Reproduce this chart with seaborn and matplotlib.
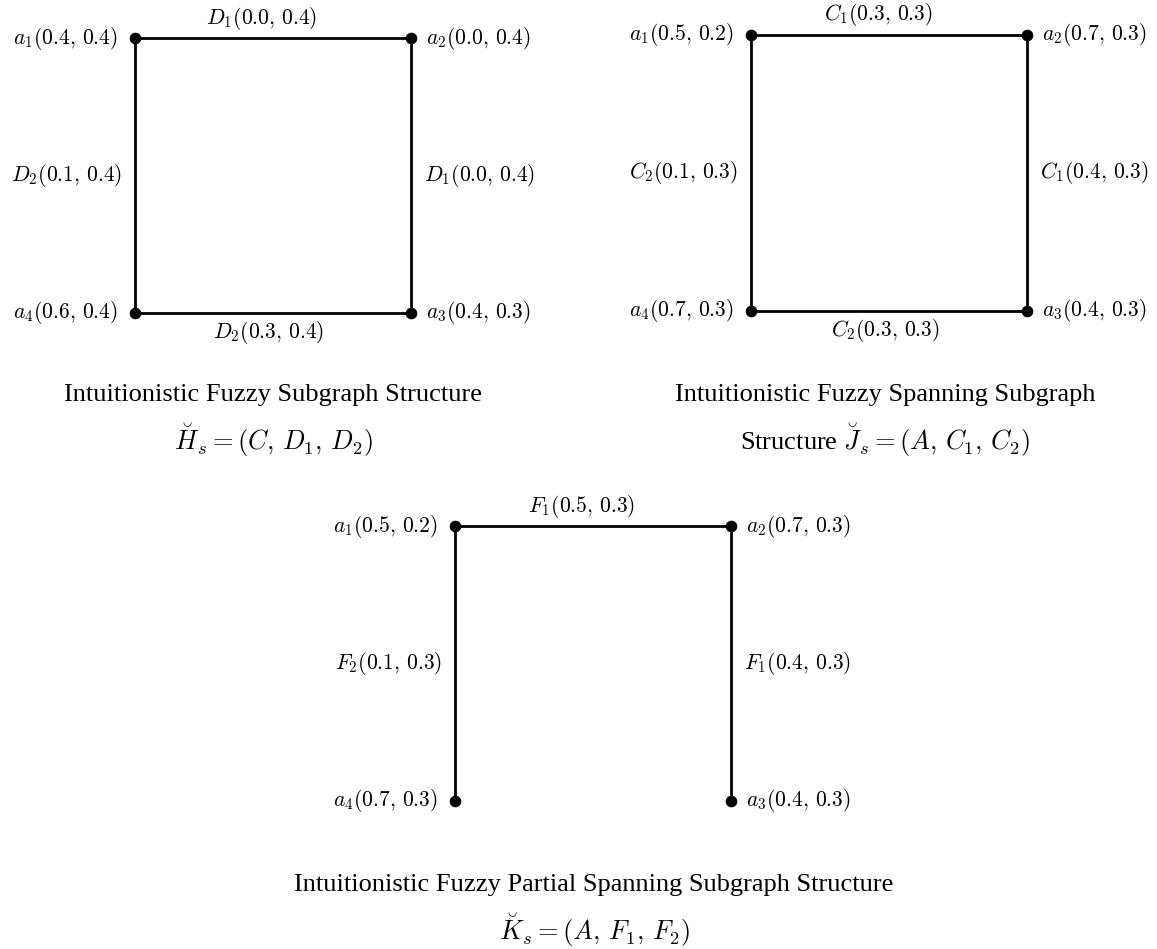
import matplotlib
matplotlib.use("Agg")
import matplotlib.pyplot as plt
import seaborn as sns
import pandas as pd

sns.set_theme(style="white")
plt.rcParams["mathtext.fontset"] = "cm"
plt.rcParams["font.family"] = ["Liberation Serif", "DejaVu Serif"]
plt.rcParams["text.color"] = "black"

# ---- data ----
vertices = ["a1", "a2", "a3", "a4"]
vertex_tex = [r"a_1", r"a_2", r"a_3", r"a_4"]

p1_vertex_vals = ["(0.4,\\, 0.4)", "(0.0,\\, 0.4)", "(0.4,\\, 0.3)", "(0.6,\\, 0.4)"]
p1_edges = [("a1", "a2"), ("a2", "a3"), ("a3", "a4"), ("a4", "a1")]
p1_edge_names = [r"D_1", r"D_1", r"D_2", r"D_2"]
p1_edge_vals = ["(0.0,\\, 0.4)", "(0.0,\\, 0.4)", "(0.3,\\, 0.4)", "(0.1,\\, 0.4)"]
p1_title = ["Intuitionistic Fuzzy Subgraph Structure", r"$\breve{H}_s=(C,\, D_1,\, D_2)$"]

p2_vertex_vals = ["(0.5,\\, 0.2)", "(0.7,\\, 0.3)", "(0.4,\\, 0.3)", "(0.7,\\, 0.3)"]
p2_edges = [("a1", "a2"), ("a2", "a3"), ("a3", "a4"), ("a4", "a1")]
p2_edge_names = [r"C_1", r"C_1", r"C_2", r"C_2"]
p2_edge_vals = ["(0.3,\\, 0.3)", "(0.4,\\, 0.3)", "(0.3,\\, 0.3)", "(0.1,\\, 0.3)"]
p2_title = ["Intuitionistic Fuzzy Spanning Subgraph", r"Structure $\breve{J}_s=(A,\, C_1,\, C_2)$"]

p3_vertex_vals = ["(0.5,\\, 0.2)", "(0.7,\\, 0.3)", "(0.4,\\, 0.3)", "(0.7,\\, 0.3)"]
p3_edges = [("a1", "a2"), ("a2", "a3"), ("a4", "a1")]
p3_edge_names = [r"F_1", r"F_1", r"F_2"]
p3_edge_vals = ["(0.5,\\, 0.3)", "(0.4,\\, 0.3)", "(0.1,\\, 0.3)"]
p3_title = ["Intuitionistic Fuzzy Partial Spanning Subgraph Structure", r"$\breve{K}_s=(A,\, F_1,\, F_2)$"]

# ---- layout (unit square per panel) ----
layout = {"a1": (0, 1), "a2": (1, 1), "a3": (1, 0), "a4": (0, 0)}
W, H = 1157, 949
DPI = 100
FS = 15.5
TFS = 19
MFS = 19

fig = plt.figure(figsize=(W / DPI, H / DPI), dpi=DPI)
fig.patch.set_facecolor("white")

def panel(rect_px, vvals, edges, enames, evals, title, title_xy):
    x0, y0, x1, y1 = rect_px
    ax = fig.add_axes([x0 / W, 1 - y1 / H, (x1 - x0) / W, (y1 - y0) / H])
    ax.set_xlim(0, 1)
    ax.set_ylim(0, 1)
    ax.axis("off")
    # edges
    rows = []
    for i, (u, v) in enumerate(edges):
        for n in (u, v):
            rows.append({"edge": i, "x": layout[n][0], "y": layout[n][1]})
    edf = pd.DataFrame(rows)
    sns.lineplot(data=edf, x="x", y="y", units="edge", estimator=None, sort=False,
                 color="black", linewidth=2.0, ax=ax, legend=False, clip_on=False)
    # nodes
    ndf = pd.DataFrame({"v": vertices,
                        "x": [layout[v][0] for v in vertices],
                        "y": [layout[v][1] for v in vertices]})
    sns.scatterplot(data=ndf, x="x", y="y", color="black", s=60, edgecolor="black",
                    ax=ax, legend=False, clip_on=False, zorder=5)
    # vertex labels
    for v, tex, val in zip(vertices, vertex_tex, vvals):
        px, py = layout[v]
        ha = "right" if px == 0 else "left"
        dx = -17 if px == 0 else 15
        ax.annotate(f"${tex}{val}$", (px, py), xytext=(dx, 0), textcoords="offset pixels",
                    ha=ha, va="center", fontsize=FS, color="black")
    # edge labels
    for (u, v), nm, val in zip(edges, enames, evals):
        (ux, uy), (vx, vy) = layout[u], layout[v]
        mx, my = (ux + vx) / 2, (uy + vy) / 2
        s = f"${nm}{val}$"
        if uy == vy:  # horizontal
            if my == 1:
                dx, dy = -11, 20
            else:
                dx, dy = -4, -20
            ax.annotate(s, (mx, my), xytext=(dx, dy), textcoords="offset pixels",
                        ha="center", va="center", fontsize=FS, color="black")
        else:
            if mx == 0:
                ax.annotate(s, (mx, my), xytext=(-13, 0), textcoords="offset pixels",
                            ha="right", va="center", fontsize=FS, color="black")
            else:
                ax.annotate(s, (mx, my), xytext=(13, 0), textcoords="offset pixels",
                            ha="left", va="center", fontsize=FS, color="black")
    tx, ty = title_xy
    fig.text(tx / W, 1 - ty / H, title[0], ha="center", va="center", fontsize=TFS, color="black")
    fig.text(tx / W, 1 - (ty + 45) / H, title[1], ha="center", va="center", fontsize=MFS, color="black")

panel((135, 38, 411, 313), p1_vertex_vals, p1_edges, p1_edge_names, p1_edge_vals, p1_title, (273, 395))
panel((751, 35, 1027, 311), p2_vertex_vals, p2_edges, p2_edge_names, p2_edge_vals, p2_title, (885, 395))
panel((455, 526, 731, 801), p3_vertex_vals, p3_edges, p3_edge_names, p3_edge_vals, p3_title, (594, 885))

fig.savefig("out.png", dpi=DPI, facecolor="white")
